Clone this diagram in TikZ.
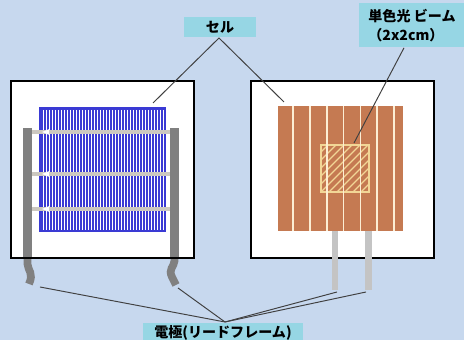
\documentclass[tikz,border=0pt]{standalone}
\usepackage{fontspec}
\newfontfamily\jpfont{Noto Sans CJK JP}

\definecolor{bg}{RGB}{199,216,238}
\definecolor{tagcyan}{RGB}{150,214,228}
\definecolor{cellblue}{RGB}{58,58,212}
\definecolor{leaddark}{RGB}{128,128,128}
\definecolor{leadlight}{RGB}{196,196,196}
\definecolor{barbeige}{RGB}{204,200,192}
\definecolor{copper}{RGB}{197,122,82}
\definecolor{cream}{RGB}{252,238,212}
\definecolor{beamline}{RGB}{242,214,150}

\begin{document}
\begin{tikzpicture}[x=0.02cm, y=-0.02cm,
    tag/.style = {fill=tagcyan, inner sep=0pt, font=\jpfont\bfseries\fontsize{8}{11}\selectfont},
    frame/.style = {draw=black, line width=1.1pt},
    leader/.style = {draw=black!75, line width=0.55pt},
    bus/.style = {barbeige, line width=2.2pt}
    ]
  \fill[bg] (0,0) rectangle (464,340);
  \useasboundingbox (0,0) rectangle (464,340);

  % left sample: blue cell with fingers and bus bars
  \fill[white] (11,81) rectangle (194,258);
  \fill[cellblue] (39,107) rectangle (166,232);
  \foreach \x in {0,...,40}
    \draw[white, line width=0.75pt] (43.5+3*\x,110) -- (43.5+3*\x,230);
  \foreach \y in {132,174,209} {
    \draw[bus] (31,\y) -- (171,\y);
    \fill[white] (42,\y) -- (49,\y-2.8) -- (49,\y+2.8) -- cycle;
  }
  \fill[leaddark] (23,128) rectangle (32,258);
  \fill[leaddark] (170,128) rectangle (179,258);
  \draw[leaddark, line width=4.4pt] (27.5,255) -- (27.5,264) .. controls (28,271) and (34,273) .. (29,284);
  \draw[leaddark, line width=4.4pt] (174.5,255) -- (174.5,261) .. controls (174,267) and (168,269) .. (172,277) -- (176,285);
  \draw[frame] (11,81) rectangle (194,258);

  % right sample: copper stripes with beam spot
  \fill[white] (251,81) rectangle (434,258);
  \fill[copper] (278,106) rectangle (403,231);
  \begin{scope}
    \clip (321,145) rectangle (369,192);
    \foreach \d in {-40,-32,...,56}
      \draw[beamline, line width=0.7pt] (321+\d,192) -- (369+\d,144);
  \end{scope}
  \draw[beamline, line width=0.9pt] (321,145) rectangle (369,192);
  \foreach \x in {0,...,6}
    \draw[cream, line width=1pt] (293.2+16.8*\x,106) -- (293.2+16.8*\x,231);
  \draw[frame] (251,81) rectangle (434,258);
  \fill[leadlight] (332,231) rectangle (338,290);
  \fill[leadlight] (365,231) rectangle (372,290);

  % labels
  \node[tag, minimum width=1.44cm, minimum height=0.4cm] (cell) at (220,27) {セル};
  \node[tag, minimum width=2.12cm, minimum height=0.88cm, align=left] (beam) at (412,25.5)
    {単色光 ビーム\\（2x2cm）};
  \node[tag, minimum width=3.2cm, minimum height=0.4cm] (elec) at (223,333) {電極(リードフレーム)};

  \coordinate (cellL) at (153,103);
  \coordinate (cellR) at (284,102);
  \coordinate (spot) at (354,143);
  \coordinate (leadA) at (40,287);
  \coordinate (leadB) at (178,288);
  \coordinate (leadC) at (337,292);
  \coordinate (leadD) at (366,292);
  \coordinate (cellTip) at (219,38);
  \coordinate (elecTip) at (225,322);

  \draw[leader] (cellL) -- (cellTip) -- (cellR);
  \draw[leader] (beam.south) ++(-8,0) -- (spot);
  \foreach \p in {leadA,leadB,leadC,leadD}
    \draw[leader] (\p) -- (elecTip);
\end{tikzpicture}
\end{document}
